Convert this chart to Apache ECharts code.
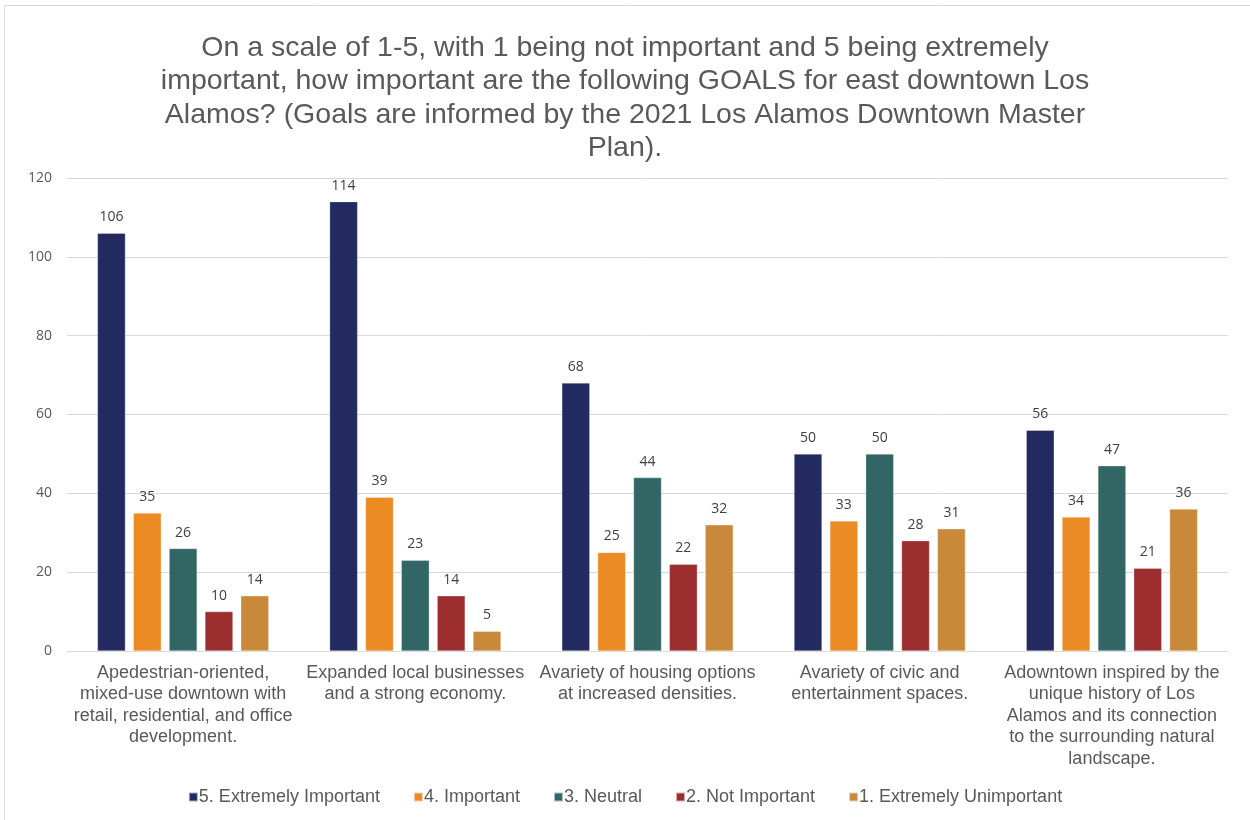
<!DOCTYPE html>
<html>
<head>
<meta charset="utf-8">
<script src="https://cdn.jsdelivr.net/npm/echarts@6/dist/echarts.min.js"></script>
<style>
  html, body { margin: 0; padding: 0; background: #fff; }
  #chart { width: 1250px; height: 820px; }
</style>
</head>
<body>
<div id="chart"></div>
<script>
// Survey question and answer groups
const titleText = 'On a scale of 1-5, with 1 being not important and 5 being extremely\nimportant, how important are the following GOALS for east downtown Los\nAlamos? (Goals are informed by the 2021 Los Alamos Downtown Master\nPlan).';

const categories = [
  'Apedestrian-oriented,\nmixed-use downtown with\nretail, residential, and office\ndevelopment.',
  'Expanded local businesses\nand a strong economy.',
  'Avariety of housing options\nat increased densities.',
  'Avariety of civic and\nentertainment spaces.',
  'Adowntown inspired by the\nunique history of Los\nAlamos and its connection\nto the surrounding natural\nlandscape.'
];

const seriesNames = [
  '5. Extremely Important',
  '4. Important',
  '3. Neutral',
  '2. Not Important',
  '1. Extremely Unimportant'
];

const extremelyImportant = [106, 114, 68, 50, 56];
const important = [35, 39, 25, 33, 34];
const neutral = [26, 23, 44, 50, 47];
const notImportant = [10, 14, 22, 28, 21];
const extremelyUnimportant = [14, 5, 32, 31, 36];

const yTicks = { min: 0, max: 120, interval: 20 };

const colors = ['#222A5F', '#EC8A24', '#316665', '#9C2E2F', '#C8893B'];
const values = [extremelyImportant, important, neutral, notImportant, extremelyUnimportant];

const chart = echarts.init(document.getElementById('chart'));

const series = seriesNames.map((name, i) => ({
  name,
  type: 'bar',
  data: values[i],
  barWidth: 28,
  barGap: '28%',
  itemStyle: { color: colors[i], borderColor: 'rgba(255,255,255,0.6)', borderWidth: 0.5 },
  label: {
    show: true,
    position: 'top',
    distance: 9,
    color: '#404040',
    fontFamily: 'Open Sans, Liberation Sans, sans-serif',
    fontSize: 14
  }
}));

chart.setOption({
  backgroundColor: '#fff',
  animation: false,
  color: colors,
  graphic: [{
    type: 'rect',
    shape: { x: 4.5, y: 5.5, width: 1260, height: 830 },
    style: { fill: 'none', stroke: '#d9d9d9', lineWidth: 1 },
    silent: true
  }],
  title: {
    text: titleText,
    left: 'center',
    top: 26,
    textStyle: {
      fontFamily: 'Liberation Sans, Arial, sans-serif',
      fontSize: 28.5,
      fontWeight: 'normal',
      color: '#595959',
      lineHeight: 33.5
    }
  },
  legend: {
    bottom: 9,
    left: 'center',
    itemWidth: 9,
    itemHeight: 9,
    itemGap: 33,
    icon: 'rect',
    textStyle: {
      fontFamily: 'Liberation Sans, Arial, sans-serif',
      fontSize: 18,
      color: '#595959',
      padding: [0, 0, 0, -4]
    },
    data: seriesNames
  },
  grid: {
    left: 67,
    right: 22,
    top: 178,
    bottom: 169
  },
  xAxis: {
    type: 'category',
    data: categories,
    axisLine: { lineStyle: { color: '#d9d9d9', width: 1 } },
    axisTick: { show: false },
    axisLabel: {
      interval: 0,
      margin: 11,
      fontFamily: 'Liberation Sans, Arial, sans-serif',
      fontSize: 18,
      lineHeight: 21.5,
      color: '#595959'
    }
  },
  yAxis: {
    type: 'value',
    min: yTicks.min,
    max: yTicks.max,
    interval: yTicks.interval,
    axisLine: { show: false },
    axisTick: { show: false },
    splitLine: { lineStyle: { color: '#d9d9d9', width: 1 } },
    axisLabel: {
      margin: 15,
      fontFamily: 'Open Sans, Liberation Sans, sans-serif',
      fontSize: 14,
      color: '#595959'
    }
  },
  series
});
</script>
</body>
</html>
